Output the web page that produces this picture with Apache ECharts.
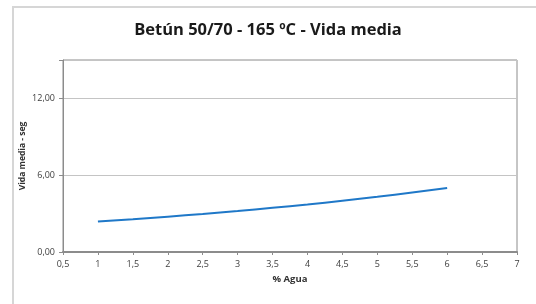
<!DOCTYPE html>
<html>
<head>
<meta charset="utf-8">
<script src="https://cdn.jsdelivr.net/npm/echarts@6/dist/echarts.min.js"></script>
<style>
  html, body { margin: 0; padding: 0; background: #fff; }
  #chart { width: 536px; height: 304px; }
</style>
</head>
<body>
<div id="chart"></div>
<script>
// datos
var agua = [1, 1.5, 2, 2.5, 3, 3.5, 4, 4.5, 5, 5.5, 6];
var vidaMedia = [2.38, 2.56, 2.76, 2.97, 3.2, 3.45, 3.71, 4.0, 4.31, 4.64, 5.0];
var yTicks = [0, 6, 12];

var chart = echarts.init(document.getElementById('chart'));

var option = {
  animation: false,
  title: {
    text: 'Betún 50/70 - 165 ºC - Vida media',
    left: 'center',
    top: 17,
    textStyle: { fontFamily: 'Open Sans', fontWeight: 'bold', fontSize: 16.5, color: '#1a1a1a' }
  },
  graphic: [{
    type: 'rect',
    shape: { x: 13, y: 7, width: 600, height: 400 },
    style: { fill: 'none', stroke: '#d6d6d6', lineWidth: 2 },
    silent: true
  }],
  grid: { left: 63, right: 19, top: 60, bottom: 52, show: true, borderColor: '#8c8c8c', borderWidth: 1 },
  xAxis: {
    type: 'value',
    min: 0.5,
    max: 7,
    interval: 0.5,
    name: '% Agua',
    nameLocation: 'middle',
    nameGap: 22,
    nameTextStyle: { fontFamily: 'Open Sans', fontWeight: 'bold', fontSize: 9.5, color: '#333' },
    axisLine: { lineStyle: { color: '#8c8c8c', width: 2 } },
    axisTick: { length: 3, lineStyle: { color: '#8c8c8c' } },
    splitLine: { show: false },
    axisLabel: {
      fontFamily: 'Open Sans', fontSize: 9, color: '#404040', margin: 8,
      formatter: function (v) { return String(v).replace('.', ','); }
    }
  },
  yAxis: {
    type: 'value',
    min: 0,
    max: 15,
    interval: 6,
    name: 'Vida media - seg',
    nameLocation: 'middle',
    nameGap: 36,
    nameMoveOverlap: false,
    nameTextStyle: { fontFamily: 'Open Sans', fontWeight: 'bold', fontSize: 8.5, color: '#333' },
    axisLine: { show: true, lineStyle: { color: '#8c8c8c', width: 1 } },
    axisTick: { show: true, length: 4, lineStyle: { color: '#8c8c8c' } },
    splitLine: { lineStyle: { color: '#c4c4c4', width: 1 } },
    axisLabel: {
      fontFamily: 'Open Sans', fontSize: 9, color: '#404040', margin: 8,
      customValues: yTicks,
      formatter: function (v) { return v.toFixed(2).replace('.', ','); }
    }
  },
  series: [{
    type: 'line',
    data: agua.map(function (x, i) { return [x, vidaMedia[i]]; }),
    smooth: true,
    symbol: 'none',
    lineStyle: { color: '#1f78c8', width: 2 }
  }]
};

chart.setOption(option);
</script>
</body>
</html>
